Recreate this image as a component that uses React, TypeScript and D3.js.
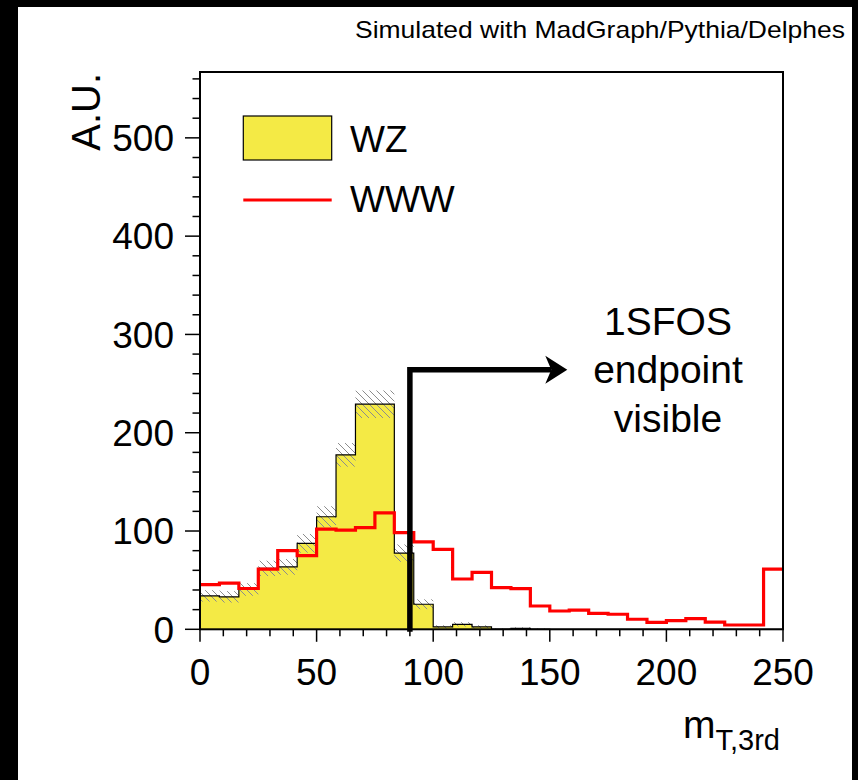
import React from "react";
import * as d3 from "d3";

// Bin edges: 30 bins over 0..250
const nBins = 30;
const xMin = 0;
const xMax = 250;

const wzValues = [34, 33, 40.5, 62, 63.5, 87.5, 114.5, 177.5, 229, 229, 77.5, 25.5, 2.5, 5, 2.5, 0.3, 1, 0.3, 0, 0, 0, 0, 0, 0, 0, 0, 0, 0, 0, 0];
const wzErrors = [5.8, 5.8, 6.4, 7.8, 8, 9.5, 10.7, 12, 14, 14, 8.8, 5, 1.6, 2.2, 1.6, 0.5, 1, 0.5, 0, 0, 0, 0, 0, 0, 0, 0, 0, 0, 0, 0];
const wwwValues = [45.5, 47, 41.5, 61.3, 80, 75, 102, 101, 103.5, 118.5, 98.3, 89, 81.4, 51.2, 58, 42.3, 41.3, 23.7, 18.6, 19.6, 16.3, 15.3, 10.2, 7.1, 8.8, 10.8, 7.4, 4.4, 4.4, 61.3];

const xTicksMajor = [0, 50, 100, 150, 200, 250];
const yTicksMajor = [0, 100, 200, 300, 400, 500];
const yMax = 567;

const legendLabels = ["WZ", "WWW"];
const annotationLines = ["1SFOS", "endpoint", "visible"];
const arrowX = 90;
const arrowY = 264;
const arrowTipX = 157.5;

const FONT = "'Liberation Sans', Arial, Helvetica, sans-serif";
const YELLOW = "#f4ea45";

export default function App() {
  const W = 858;
  const H = 780;
  const left = 200, right = 783, top = 72, bottom = 629.3;
  const x = d3.scaleLinear().domain([xMin, xMax]).range([left, right]);
  const y = d3.scaleLinear().domain([0, yMax]).range([bottom, top]);
  const bw = (xMax - xMin) / nBins;
  const edges = d3.range(nBins + 1).map((i) => xMin + i * bw);

  const stepPoints = (vals: number[]) => {
    const pts: [number, number][] = [];
    vals.forEach((v, i) => {
      pts.push([edges[i], v]);
      pts.push([edges[i + 1], v]);
    });
    return pts;
  };
  const line = d3.line<[number, number]>().x((d) => x(d[0])).y((d) => y(d[1]));
  const area = d3.area<[number, number]>().x((d) => x(d[0])).y0(y(0)).y1((d) => y(d[1]));

  const wzPts = stepPoints(wzValues);
  const wzOutline: [number, number][] = [...wzPts, [xMax, 0]];
  const wwwPts = stepPoints(wwwValues);

  const xMinor = d3.range(0, 251, 10);
  const yMinor = d3.range(0, 561, 20);

  const ax = x(arrowX), ay = y(arrowY), tipX = x(arrowTipX);

  return (
    <svg width={W} height={H} style={{ position: "absolute", left: 0, top: 0 }} fontFamily={FONT}>
      <defs>
        <pattern id="hatch" patternUnits="userSpaceOnUse" width={7} height={7}>
          <path d="M-1,-1 L8,8 M-1,6 L1,8 M6,-1 L8,1" stroke="#8c8c8c" strokeWidth={1} />
        </pattern>
        <clipPath id="plotclip">
          <rect x={left} y={top} width={right - left} height={bottom - top} />
        </clipPath>
      </defs>
      <rect x={0} y={0} width={W} height={H} fill="#000" />
      <rect x={18} y={7} width={834} height={H - 7} fill="#fff" />

      <text x={845} y={38} fontSize={24} textAnchor="end" fill="#000" textLength={490} lengthAdjust="spacingAndGlyphs">
        Simulated with MadGraph/Pythia/Delphes
      </text>

      <g clipPath="url(#plotclip)">
        <path d={area(wzPts) || ""} fill={YELLOW} stroke="none" />
        {wzValues.map((v, i) =>
          wzErrors[i] > 0 ? (
            <rect
              key={i}
              x={x(edges[i])}
              width={x(edges[i + 1]) - x(edges[i])}
              y={y(v + wzErrors[i])}
              height={y(Math.max(0, v - wzErrors[i])) - y(v + wzErrors[i])}
              fill="url(#hatch)"
            />
          ) : null
        )}
        <path d={line(wzOutline) || ""} fill="none" stroke="#000" strokeWidth={1.2} />
        <path d={line(wwwPts) || ""} fill="none" stroke="#ff0000" strokeWidth={3.2} />
      </g>

      {/* frame */}
      <rect x={left} y={top} width={right - left} height={bottom - top} fill="none" stroke="#000" strokeWidth={2} />

      {/* y axis ticks */}
      {yMinor.map((t) => (
        <line key={"ym" + t} x1={left} x2={left - (t % 100 === 0 ? 15 : 7.5)} y1={y(t)} y2={y(t)} stroke="#000" strokeWidth={1.5} />
      ))}
      {yTicksMajor.map((t) => (
        <text key={"yl" + t} x={174} y={y(t)} dy="0.36em" fontSize={37} textAnchor="end" fill="#000">
          {t}
        </text>
      ))}
      {/* x axis ticks */}
      {xMinor.map((t) => (
        <line key={"xm" + t} x1={x(t)} x2={x(t)} y1={bottom} y2={bottom + (t % 50 === 0 ? 12.5 : 7)} stroke="#000" strokeWidth={1.5} />
      ))}
      {xTicksMajor.map((t) => (
        <text key={"xl" + t} x={x(t)} y={685} fontSize={37} textAnchor="middle" fill="#000">
          {t}
        </text>
      ))}

      {/* axis titles */}
      <text x={683} y={738} fontSize={39} fill="#000">
        m
        <tspan fontSize={29} dy={12}>T,3rd</tspan>
      </text>
      <text transform={`translate(100,73) rotate(-90)`} fontSize={40} textAnchor="end" fill="#000">
        A.U.
      </text>

      {/* legend */}
      <rect x={243.3} y={116} width={88.4} height={44} fill={YELLOW} stroke="#000" strokeWidth={1.2} />
      <line x1={243.3} x2={331.7} y1={200} y2={200} stroke="#ff0000" strokeWidth={3.2} />
      <text x={350} y={151.7} fontSize={37} fill="#000">{legendLabels[0]}</text>
      <text x={350} y={211.7} fontSize={37} fill="#000">{legendLabels[1]}</text>

      {/* arrow */}
      <path d={`M${ax},${y(0) + 2.5} L${ax},${ay} L${tipX - 16},${ay}`} fill="none" stroke="#000" strokeWidth={5.5} strokeLinejoin="miter" />
      <path d={`M${tipX},${ay} L${tipX - 22},${ay - 14} L${tipX - 16},${ay} L${tipX - 22},${ay + 14} Z`} fill="#000" />

      {annotationLines.map((s, i) => (
        <text key={s} x={668} y={335 + i * 48.3} fontSize={39} textAnchor="middle" fill="#000">
          {s}
        </text>
      ))}
    </svg>
  );
}
